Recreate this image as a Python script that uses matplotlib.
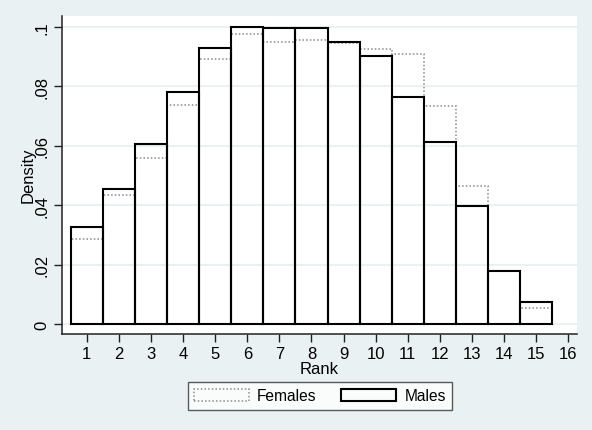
import matplotlib

matplotlib.use("Agg")
import matplotlib.pyplot as plt
import numpy as np

plt.rcParams["font.family"] = ["Liberation Sans", "DejaVu Sans"]

ranks = np.arange(1, 16)
males = [0.0326, 0.0454, 0.0605, 0.0780, 0.0930, 0.1001, 0.0998, 0.0998,
         0.0949, 0.0903, 0.0764, 0.0613, 0.0396, 0.0177, 0.0073]
females = [0.0286, 0.0435, 0.0559, 0.0738, 0.0892, 0.0975, 0.0950, 0.0957,
           0.0946, 0.0926, 0.0909, 0.0735, 0.0466, 0.0177, 0.0055]
yticks = [0, 0.02, 0.04, 0.06, 0.08, 0.1]
ytick_labels = ["0", ".02", ".04", ".06", ".08", ".1"]
xticks = list(range(1, 17))

BG = "#EAF1F3"
GRID = "#E6EFF1"
FS = 12

fig = plt.figure(figsize=(5.92, 4.31), dpi=100, facecolor=BG)
ax = fig.add_axes([0.1042, 0.2234, 0.8705, 0.7379])
ax.set_facecolor("white")

ax.bar(ranks, females, width=1.0, fill=False, edgecolor="#8a8a8a",
       linewidth=1.1, linestyle=(0, (1, 1.4)), label="Females", zorder=3)
ax.bar(ranks, males, width=1.0, fill=False, edgecolor="black",
       linewidth=1.5, label="Males", zorder=4)

ax.set_xlim(0.22, 16.27)
ax.set_ylim(-0.0033, 0.1038)
ax.set_yticks(yticks)
ax.set_yticklabels(ytick_labels, rotation=90, va="center")
ax.set_xticks(xticks)
ax.tick_params(axis="both", labelsize=FS, length=6, width=1, color="#222",
               pad=3)
ax.grid(axis="y", color=GRID, linewidth=1.2, zorder=0)
ax.set_axisbelow(True)

for s in ["top", "right"]:
    ax.spines[s].set_visible(False)
for s in ["left", "bottom"]:
    ax.spines[s].set_color("#222")
    ax.spines[s].set_linewidth(1.1)

ax.set_xlabel("Rank", fontsize=FS, labelpad=0)
ax.set_ylabel("Density", fontsize=FS, labelpad=-1)

leg = fig.legend(loc="center", bbox_to_anchor=(0.5405, 0.079), ncol=2,
                 frameon=True, fancybox=False, edgecolor="#333",
                 fontsize=11.2, handlelength=3.5, handleheight=0.85,
                 columnspacing=1.6, handletextpad=0.55, borderpad=0.4,
                 borderaxespad=0)
leg.get_frame().set_linewidth(1.0)

fig.savefig("out.png", dpi=100, facecolor=BG)
